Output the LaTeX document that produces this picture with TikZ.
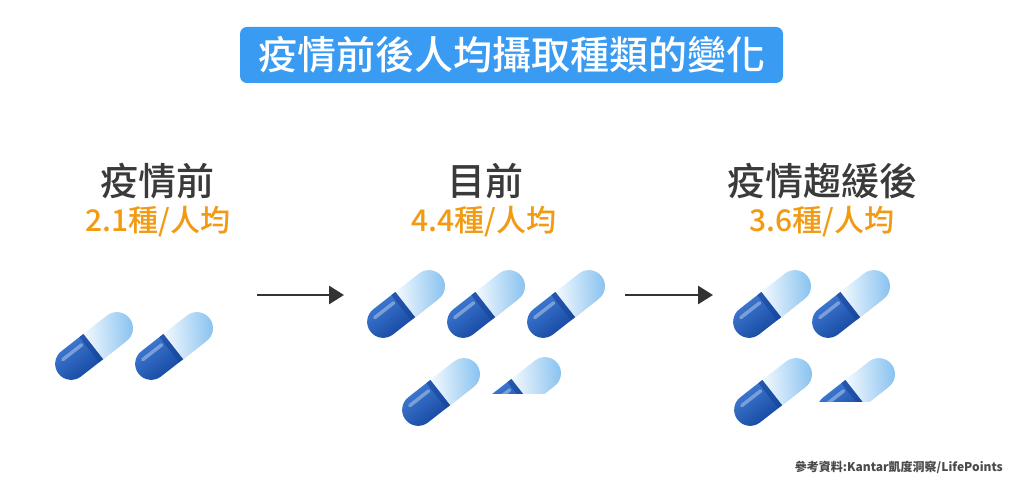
\documentclass[tikz,border=0pt]{standalone}
\usepackage{fontspec}
\newfontfamily\cjk{Noto Sans CJK TC}
\newfontfamily\cjkm{Noto Sans CJK TC Medium}
\usetikzlibrary{arrows.meta}
\definecolor{titleblue}{HTML}{3A9BF2}
\definecolor{headgray}{HTML}{3A3A3A}
\definecolor{numorange}{HTML}{F29A12}
\definecolor{arrowgray}{HTML}{333333}
\definecolor{srcgray}{HTML}{4A4A4A}
\definecolor{pdarkA}{HTML}{3A74CC}
\definecolor{pdarkB}{HTML}{1A4DA6}
\definecolor{pseam}{HTML}{16449A}
\definecolor{plightA}{HTML}{F6FBFF}
\definecolor{plightB}{HTML}{86C3F1}
\definecolor{plightC}{HTML}{5FA7E8}
\tikzset{
  headtxt/.style={text=headgray, font=\cjkm\fontsize{38}{40}\selectfont, inner sep=0pt},
  numtxt/.style={text=numorange, font=\cjkm\fontsize{30}{32}\selectfont, inner sep=0pt},
  flowarrow/.style={draw=arrowgray, line width=2.8pt, -{Triangle[length=15pt,width=18pt]}},
}
\newcommand\pill[2]{%
  \begin{scope}[transform canvas={shift={(#1pt,#2pt)},rotate=38}]
    % light half
    \shade[bottom color=plightC, top color=plightA]
      (-2,-16) -- (29,-16) arc[start angle=-90,end angle=90,radius=16] -- (-2,16) -- cycle;
    \shade[left color=plightA, right color=plightB, opacity=0.75]
      (-2,-16) -- (29,-16) arc[start angle=-90,end angle=90,radius=16] -- (-2,16) -- cycle;
    % dark half
    \shade[top color=pdarkA, bottom color=pdarkB]
      (-1,16) -- (-29,16) arc[start angle=90,end angle=270,radius=16] -- (-1,-16) -- cycle;
    \fill[pseam, opacity=0.6] (-6,16) rectangle (-1,-16);
    % highlight
    \draw[white, opacity=0.35, line width=3.5pt, line cap=round] (-33,8.5) -- (-9,8.5);
  \end{scope}}
\begin{document}
\begin{tikzpicture}[x=1pt,y=1pt]
\useasboundingbox[fill=white] (0,0) rectangle (1024,487);
% title
\fill[titleblue, rounded corners=7pt] (240,404) rectangle (783,460);
\node[text=white, font=\cjkm\fontsize{39}{41}\selectfont, inner sep=0pt] (title) at (511.5,432) {疫情前後人均攝取種類的變化};
% headings
\node[headtxt] (h1) at (157,306) {疫情前};
\node[headtxt] (h2) at (485,306) {目前};
\node[headtxt] (h3) at (822,306) {疫情趨緩後};
\node[numtxt] (n1) at (158,265) {2.1種/人均};
\node[numtxt] (n2) at (484,265) {4.4種/人均};
\node[numtxt] (n3) at (822,265) {3.6種/人均};
% arrows
\coordinate (a1s) at (257,192);
\coordinate (a1e) at (344,192);
\coordinate (a2s) at (625,192);
\coordinate (a2e) at (713,192);
\draw[flowarrow] (a1s) -- (a1e);
\draw[flowarrow] (a2s) -- (a2e);
% capsules
\pill{94}{141}
\pill{174}{141}
\pill{406}{183}
\pill{486}{183}
\pill{566}{183}
\pill{441}{95}
\pill{772}{183}
\pill{851}{183}
\pill{773}{95}
\begin{scope}
  \clip (0,93) rectangle (1024,487);
  \pill{522}{96}
\end{scope}
\begin{scope}
  \clip (0,86) rectangle (1024,487);
  \pill{856}{95}
\end{scope}
% source
\node[text=srcgray, font=\cjk\bfseries\fontsize{12}{14}\selectfont, anchor=east, inner sep=0pt] (src) at (1003,20) {參考資料:Kantar凱度洞察/LifePoints};
\end{tikzpicture}
\end{document}
